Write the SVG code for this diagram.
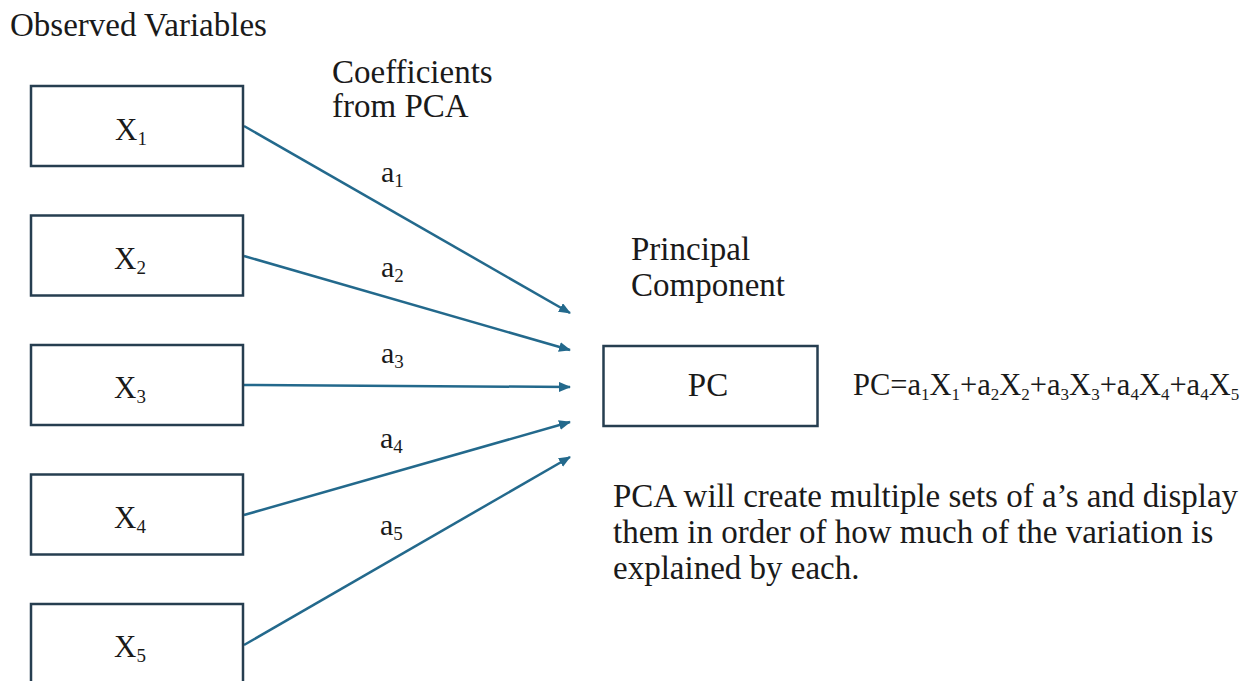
<svg xmlns="http://www.w3.org/2000/svg" width="1254" height="681" viewBox="0 0 1254 681">
<style>
text{font-family:"Liberation Serif","Times New Roman",serif;fill:#1a1a1a}
.t{font-size:33px}
.x{font-size:31px}
.lab{font-size:30px}
.s{font-size:17px}
.s2{font-size:19px}
.box{fill:#fff;stroke:#263e50;stroke-width:2.5}
.edge{stroke:#23698c;stroke-width:2.5;fill:none;marker-end:url(#ah)}
</style>
<defs>
<marker id="ah" markerUnits="userSpaceOnUse" markerWidth="14" markerHeight="12" refX="11" refY="5" orient="auto">
<path d="M0,0 L12,5 L0,10 z" fill="#23698c"/>
</marker>
</defs>
<rect width="1254" height="681" fill="#fff"/>
<text class="t" x="10" y="36">Observed Variables</text>
<text class="t" x="332" y="83">Coefficients</text>
<text class="t" x="332" y="117">from PCA</text>
<text class="t" x="631" y="260">Principal</text>
<text class="t" x="631" y="296">Component</text>
<g id="connectors">
<line class="edge" x1="244" y1="126" x2="570" y2="313"/>
<line class="edge" x1="244" y1="256" x2="570" y2="350"/>
<line class="edge" x1="244" y1="385" x2="570" y2="387"/>
<line class="edge" x1="244" y1="515" x2="570" y2="422"/>
<line class="edge" x1="244" y1="645" x2="570" y2="457"/>
<text class="lab" x="381" y="182">a<tspan class="s2" dy="5">1</tspan></text>
<text class="lab" x="381" y="277">a<tspan class="s2" dy="5">2</tspan></text>
<text class="lab" x="381" y="363">a<tspan class="s2" dy="5">3</tspan></text>
<text class="lab" x="380" y="448">a<tspan class="s2" dy="5">4</tspan></text>
<text class="lab" x="380" y="535">a<tspan class="s2" dy="5">5</tspan></text>
</g>
<g id="x1"><rect class="box" x="31" y="86" width="212" height="80"/><text class="x" x="131" y="140" text-anchor="middle">X<tspan class="s2" dy="5">1</tspan></text></g>
<g id="x2"><rect class="box" x="31" y="215.5" width="212" height="80"/><text class="x" x="130" y="269" text-anchor="middle">X<tspan class="s2" dy="5">2</tspan></text></g>
<g id="x3"><rect class="box" x="31" y="345" width="212" height="80"/><text class="x" x="130" y="398" text-anchor="middle">X<tspan class="s2" dy="5">3</tspan></text></g>
<g id="x4"><rect class="box" x="31" y="474.5" width="212" height="80"/><text class="x" x="130" y="528" text-anchor="middle">X<tspan class="s2" dy="5">4</tspan></text></g>
<g id="x5"><rect class="box" x="31" y="604" width="212" height="80"/><text class="x" x="130" y="657" text-anchor="middle">X<tspan class="s2" dy="5">5</tspan></text></g>
<g id="pc"><rect class="box" x="603.5" y="346" width="214" height="80"/><text class="t" x="708" y="396" text-anchor="middle">PC</text></g>
<g id="formula"><text class="t" x="853" y="395" style="font-size:30.5px">PC=a<tspan class="s" dy="5">1</tspan><tspan dy="-5">X</tspan><tspan class="s" dy="5">1</tspan><tspan dy="-5">+a</tspan><tspan class="s" dy="5">2</tspan><tspan dy="-5">X</tspan><tspan class="s" dy="5">2</tspan><tspan dy="-5">+a</tspan><tspan class="s" dy="5">3</tspan><tspan dy="-5">X</tspan><tspan class="s" dy="5">3</tspan><tspan dy="-5">+a</tspan><tspan class="s" dy="5">4</tspan><tspan dy="-5">X</tspan><tspan class="s" dy="5">4</tspan><tspan dy="-5">+a</tspan><tspan class="s" dy="5">4</tspan><tspan dy="-5">X</tspan><tspan class="s" dy="5">5</tspan></text></g>
<g id="note">
<text class="t" x="613" y="507">PCA will create multiple sets of a’s and display</text>
<text class="t" x="613" y="543">them in order of how much of the variation is</text>
<text class="t" x="613" y="579">explained by each.</text>
</g>
</svg>
